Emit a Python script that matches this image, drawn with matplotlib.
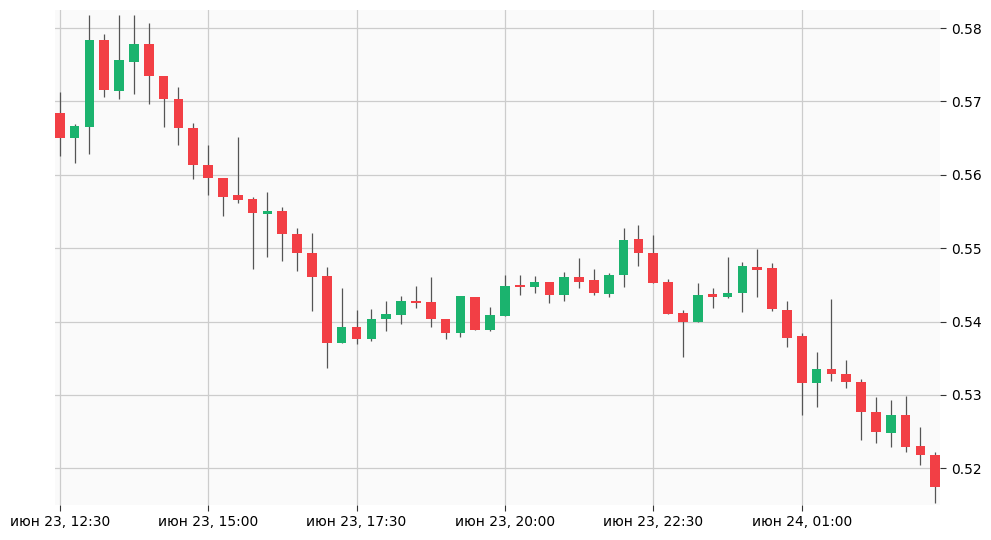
import matplotlib.pyplot as plt
import numpy as np

# 15-minute candles, starting июн 23, 12:30
opens = [0.5684, 0.5650, 0.5665, 0.5784, 0.5714, 0.5754, 0.5778, 0.5735, 0.5703, 0.5664,
         0.5613, 0.5595, 0.5572, 0.5567, 0.5547, 0.5550, 0.5519, 0.5494, 0.5462, 0.5371,
         0.5393, 0.5376, 0.5403, 0.5409, 0.5426, 0.5426, 0.5404, 0.5384, 0.5433, 0.5389,
         0.5407, 0.5449, 0.5447, 0.5454, 0.5436, 0.5460, 0.5456, 0.5437, 0.5464, 0.5512,
         0.5494, 0.5454, 0.5411, 0.5400, 0.5437, 0.5434, 0.5439, 0.5474, 0.5473, 0.5415,
         0.5380, 0.5316, 0.5335, 0.5328, 0.5317, 0.5276, 0.5248, 0.5272, 0.5230, 0.5218]
highs = [0.5713, 0.5669, 0.5818, 0.5792, 0.5818, 0.5818, 0.5807, 0.5735, 0.5720, 0.5670,
         0.5640, 0.5595, 0.5651, 0.5570, 0.5576, 0.5556, 0.5528, 0.5521, 0.5474, 0.5445,
         0.5415, 0.5417, 0.5428, 0.5435, 0.5449, 0.5460, 0.5404, 0.5435, 0.5434, 0.5420,
         0.5464, 0.5464, 0.5462, 0.5454, 0.5467, 0.5486, 0.5472, 0.5466, 0.5528, 0.5532,
         0.5518, 0.5458, 0.5415, 0.5453, 0.5445, 0.5488, 0.5481, 0.5499, 0.5480, 0.5428,
         0.5384, 0.5358, 0.5430, 0.5347, 0.5321, 0.5297, 0.5293, 0.5298, 0.5256, 0.5222]
lows = [0.5625, 0.5616, 0.5628, 0.5706, 0.5703, 0.5710, 0.5696, 0.5665, 0.5640, 0.5594,
        0.5572, 0.5544, 0.5562, 0.5471, 0.5488, 0.5482, 0.5469, 0.5414, 0.5336, 0.5371,
        0.5370, 0.5373, 0.5387, 0.5397, 0.5418, 0.5392, 0.5376, 0.5379, 0.5389, 0.5387,
        0.5407, 0.5436, 0.5439, 0.5425, 0.5428, 0.5445, 0.5436, 0.5433, 0.5447, 0.5475,
        0.5452, 0.5410, 0.5351, 0.5400, 0.5419, 0.5432, 0.5413, 0.5434, 0.5414, 0.5365,
        0.5272, 0.5284, 0.5319, 0.5309, 0.5238, 0.5234, 0.5229, 0.5222, 0.5204, 0.5153]
closes = [0.5650, 0.5667, 0.5784, 0.5715, 0.5756, 0.5778, 0.5735, 0.5703, 0.5664, 0.5613,
          0.5595, 0.5570, 0.5565, 0.5548, 0.5550, 0.5519, 0.5494, 0.5460, 0.5371, 0.5393,
          0.5376, 0.5404, 0.5410, 0.5428, 0.5425, 0.5404, 0.5384, 0.5435, 0.5389, 0.5409,
          0.5449, 0.5447, 0.5454, 0.5436, 0.5460, 0.5454, 0.5439, 0.5464, 0.5511, 0.5493,
          0.5452, 0.5410, 0.5400, 0.5436, 0.5434, 0.5439, 0.5475, 0.5470, 0.5417, 0.5378,
          0.5316, 0.5335, 0.5328, 0.5317, 0.5276, 0.5249, 0.5272, 0.5229, 0.5218, 0.5174]
tick_pos = [0, 10, 20, 30, 40, 50]
tick_labels = ['июн 23, 12:30', 'июн 23, 15:00', 'июн 23, 17:30',
               'июн 23, 20:00', 'июн 23, 22:30', 'июн 24, 01:00']

up_col = '#1bb36e'
down_col = '#f23f45'

fig, ax = plt.subplots(figsize=(9.91, 5.40), dpi=100)
fig.subplots_adjust(left=0.055, right=0.949, top=0.982, bottom=0.065)
ax.set_facecolor('#fafafa')

x = np.arange(len(opens))
o = np.array(opens); h = np.array(highs); l = np.array(lows); c = np.array(closes)
cols = [up_col if cc >= oo else down_col for oo, cc in zip(o, c)]
ax.vlines(x, l, h, color='#555555', linewidth=0.9, zorder=2)
bottoms = np.minimum(o, c)
heights = np.maximum(np.abs(c - o), 0.0003)
ax.bar(x, heights, bottom=bottoms, width=0.65, color=cols, zorder=3)

ax.set_xlim(-0.35, 59.35)
ax.set_ylim(0.515, 0.5825)
ax.set_xticks(tick_pos)
ax.set_xticklabels(tick_labels)
ax.set_yticks([0.52, 0.53, 0.54, 0.55, 0.56, 0.57, 0.58])
ax.yaxis.tick_right()
ax.grid(True, color='#cccccc', linewidth=0.9, zorder=0)
ax.set_axisbelow(True)
for s in ax.spines.values():
    s.set_visible(False)
ax.tick_params(axis='both', labelsize=10, color='#333333', length=4)

plt.savefig('out.png')
